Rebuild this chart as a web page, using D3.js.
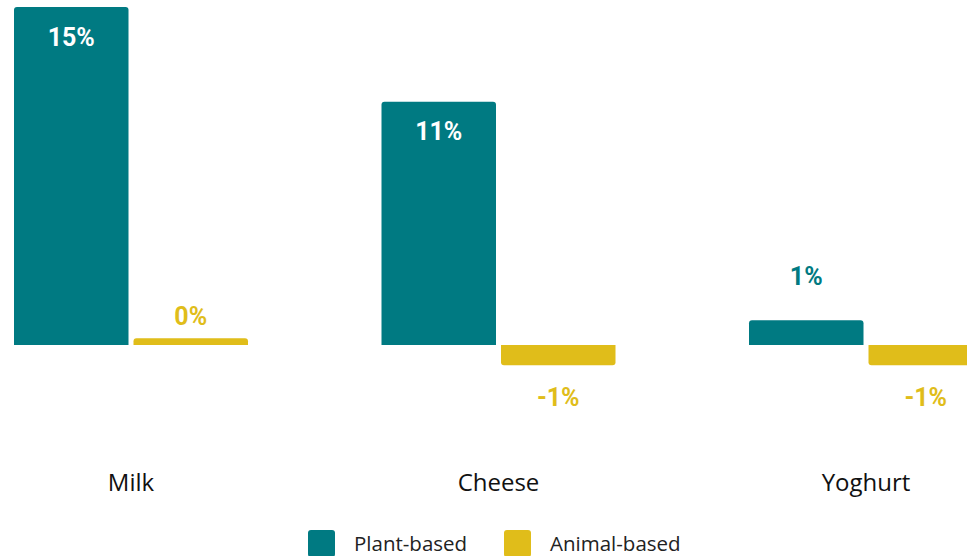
<!DOCTYPE html>
<html>
<head>
<meta charset="utf-8">
<script src="https://cdn.jsdelivr.net/npm/d3@7"></script>
<style>
  html, body { margin: 0; padding: 0; background: #fff; overflow: hidden; }
</style>
</head>
<body>
<div id="chart"></div>
<script>
const categories = ['Milk', 'Cheese', 'Yoghurt'];
const series = ['Plant-based', 'Animal-based'];
const plantValues = [15.0, 10.8, 1.1];
const animalValues = [0.3, -0.9, -0.9];

const width = 967, height = 556;
const colors = { 'Plant-based': '#007a82', 'Animal-based': '#e0bd1a' };

const rows = categories.flatMap((c, i) => [
  { cat: c, key: 'Plant-based', value: plantValues[i] },
  { cat: c, key: 'Animal-based', value: animalValues[i] }
]);

const svg = d3.select('#chart').append('svg')
  .attr('width', width)
  .attr('height', height);

// scales ////////////////////////////////////////////////////////////////
const step = 367.5, gap = 133.5;
const x = d3.scaleBand()
  .domain(categories)
  .range([14 - gap / 2, 14 - gap / 2 + 3 * step])
  .paddingInner(gap / step)
  .paddingOuter(gap / step / 2);

const xs = d3.scaleBand()
  .domain(series)
  .range([0, x.bandwidth()])
  .paddingInner(5 / 119.5);

const y = d3.scaleLinear().domain([0, 15]).range([345, 7]);

// bars with rounded outer corners ///////////////////////////////////////
const r = 3;
function barPath(x0, w, y0, y1) {
  // y0 = baseline, y1 = value end
  if (y1 <= y0) {
    return `M${x0},${y0}V${y1 + r}Q${x0},${y1} ${x0 + r},${y1}H${x0 + w - r}Q${x0 + w},${y1} ${x0 + w},${y1 + r}V${y0}Z`;
  }
  return `M${x0},${y0}V${y1 - r}Q${x0},${y1} ${x0 + r},${y1}H${x0 + w - r}Q${x0 + w},${y1} ${x0 + w},${y1 - r}V${y0}Z`;
}

const bars = svg.append('g').attr('id', 'bars');
bars.selectAll('path')
  .data(rows)
  .join('path')
  .attr('d', d => barPath(x(d.cat) + xs(d.key), xs.bandwidth(), y(0), y(d.value)))
  .attr('fill', d => colors[d.key]);

// value labels //////////////////////////////////////////////////////////
const outsideOffset = { 'Milk': -22, 'Cheese': 32, 'Yoghurt': 32 };
const plantOutsideOffset = -44;
const inside = d => Math.abs(y(d.value) - y(0)) > 60;

const labels = svg.append('g').attr('id', 'labels')
  .attr('font-family', 'Roboto, sans-serif')
  .attr('font-weight', 700)
  .attr('font-size', 25)
  .attr('text-anchor', 'middle')
  .attr('dominant-baseline', 'central');

labels.selectAll('text')
  .data(rows)
  .join('text')
  .attr('x', d => x(d.cat) + xs(d.key) + xs.bandwidth() / 2)
  .attr('y', d => {
    if (inside(d)) return y(d.value) + 30;
    if (d.key === 'Plant-based' && d.value > 0.5) return y(d.value) + plantOutsideOffset;
    return y(d.value) + outsideOffset[d.cat];
  })
  .attr('fill', d => inside(d) ? '#ffffff' : colors[d.key])
  .attr('stroke', d => inside(d) ? 'none' : '#ffffff')
  .attr('stroke-width', 6)
  .attr('stroke-linejoin', 'round')
  .attr('paint-order', 'stroke')
  .text(d => d3.format('.0f')(d.value).replace('\u2212', '-') + '%');

// category axis labels //////////////////////////////////////////////////
svg.append('g').attr('id', 'categories')
  .selectAll('text')
  .data(categories)
  .join('text')
  .attr('x', d => x(d) + x.bandwidth() / 2)
  .attr('y', 481)
  .attr('text-anchor', 'middle')
  .attr('dominant-baseline', 'central')
  .attr('font-family', '"Open Sans", sans-serif')
  .attr('font-size', 24)
  .attr('fill', '#111')
  .text(d => d);

// legend ////////////////////////////////////////////////////////////////
const legendX = [308, 504];
const legend = svg.append('g').attr('id', 'legend')
  .selectAll('g')
  .data(series)
  .join('g')
  .attr('transform', (d, i) => `translate(${legendX[i]},530)`);

legend.append('rect')
  .attr('width', 27)
  .attr('height', 27)
  .attr('rx', 3)
  .attr('fill', d => colors[d]);

legend.append('text')
  .attr('x', 46)
  .attr('y', 13)
  .attr('dominant-baseline', 'central')
  .attr('font-family', '"Open Sans", sans-serif')
  .attr('font-size', 20.5)
  .attr('fill', '#222')
  .text(d => d);
</script>
</body>
</html>
